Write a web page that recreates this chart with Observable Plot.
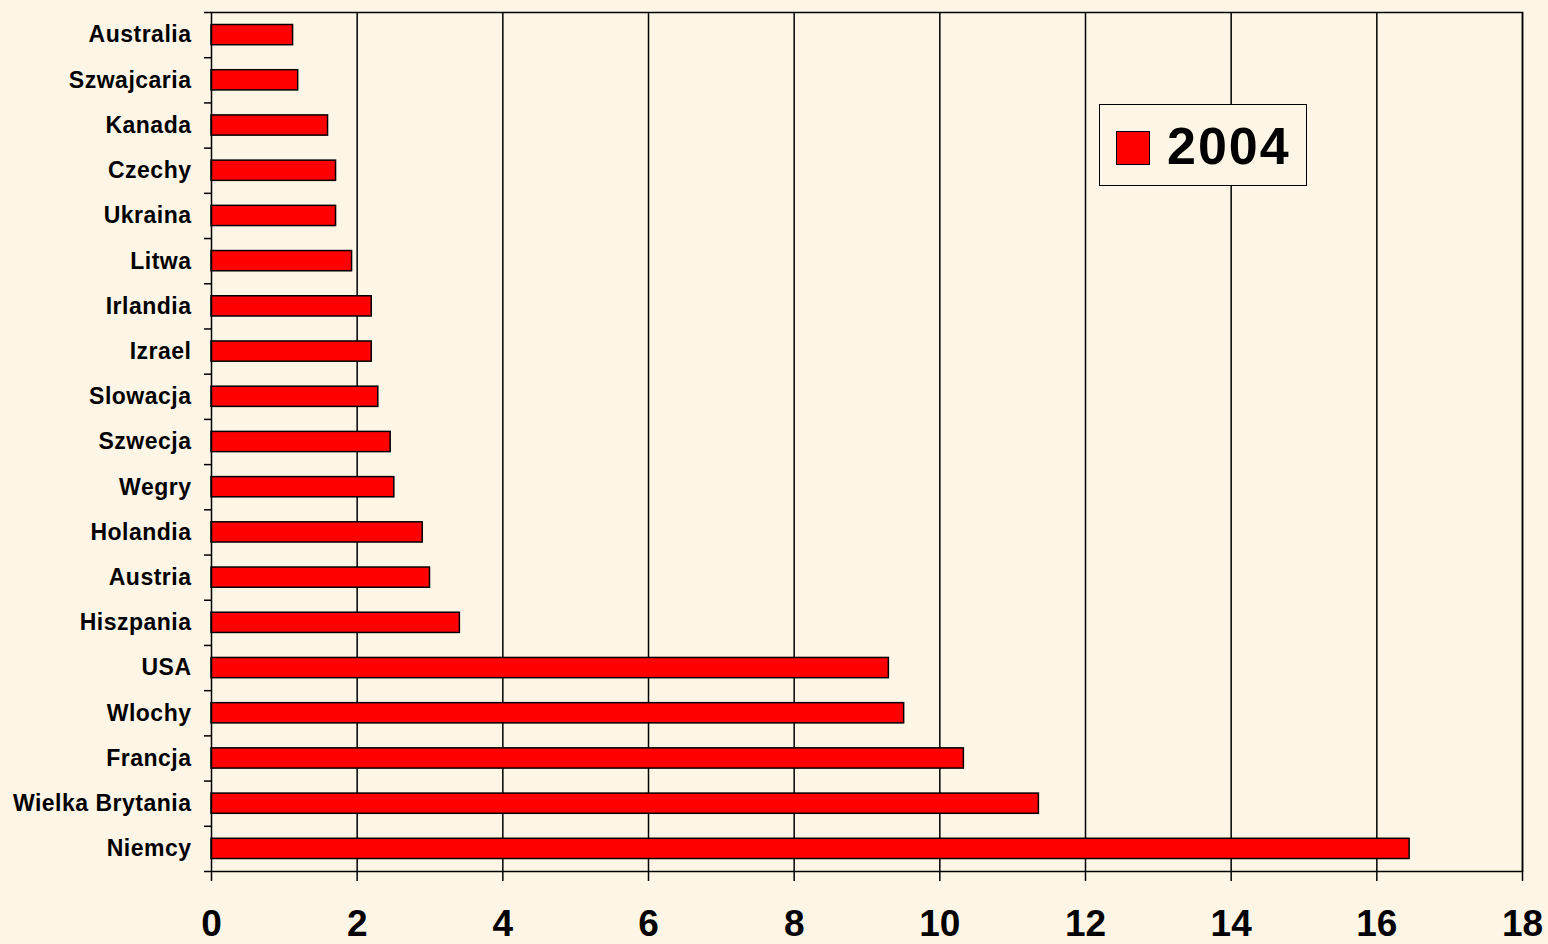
<!DOCTYPE html>
<html><head><meta charset="utf-8">
<script src="https://cdn.jsdelivr.net/npm/d3@7"></script>
<script src="https://cdn.jsdelivr.net/npm/@observablehq/plot@0.6"></script>
<style>
html,body{margin:0;padding:0;background:#fdf5e6;}
#wrap{position:relative;width:1548px;height:944px;font-family:"Liberation Sans",Arial,sans-serif;}
#legend{position:absolute;left:1099px;top:104px;width:206px;height:80px;border:1.5px solid #000;background:#fdf5e6;box-sizing:content-box;}
#legend .sw{position:absolute;left:16px;top:26px;width:32px;height:32px;background:#ff0000;border:1.5px solid #000;}
#legend .lb{position:absolute;left:67px;top:12px;font-size:52px;font-weight:bold;line-height:58px;color:#000;letter-spacing:2px;}
g[aria-label="y-axis tick label"] text{letter-spacing:0.5px;}
</style></head>
<body><div id="wrap"></div>
<script>
const countries = ["Australia","Szwajcaria","Kanada","Czechy","Ukraina","Litwa","Irlandia","Izrael","Slowacja","Szwecja","Wegry","Holandia","Austria","Hiszpania","USA","Wlochy","Francja","Wielka Brytania","Niemcy"];
const values = [1.12,1.19,1.6,1.71,1.71,1.93,2.2,2.2,2.29,2.46,2.51,2.9,3.0,3.41,9.3,9.51,10.33,11.36,16.45];
const xTicks = [0,2,4,6,8,10,12,14,16,18];
const seriesLabel = "2004";

const data = countries.map((c,i)=>({country:c, value:values[i]}));
const W=1548,H=944,mL=211,mR=26,mT=12,mB=73;
const step=(H-mT-mB)/countries.length;
const ppu=(W-mL-mR)/18;
const font='"Liberation Sans",Arial,sans-serif';

const chart = Plot.plot({
  width:W,height:H,marginLeft:mL,marginRight:mR,marginTop:mT,marginBottom:mB,
  style:{background:"#fdf5e6",fontFamily:font,color:"#000",overflow:"visible"},
  x:{domain:[0,18]},
  y:{domain:countries,padding:0,round:false},
  marks:[
    Plot.ruleX(xTicks.filter(d=>d>0),{stroke:"#000",strokeWidth:1.5}),
    Plot.barX(data,{x:"value",y:"country",fill:"#ff0000",stroke:"#000",strokeWidth:1.5,insetTop:12.5,insetBottom:12.5}),
    Plot.ruleY(countries,{y:d=>d,x1:-7/ppu,x2:0,dy:-step/2,stroke:"#000",strokeWidth:1.5}),
    Plot.ruleY([countries[countries.length-1]],{y:d=>d,x1:-7/ppu,x2:0,dy:step/2,stroke:"#000",strokeWidth:1.5}),
    Plot.frame({stroke:"#000",strokeWidth:1.5}),
    Plot.axisY({tickSize:0,tickPadding:20,fontSize:23,fontWeight:"bold",label:null}),
    Plot.axisX({ticks:xTicks,tickSize:10,tickPadding:28.5,fontSize:37,fontWeight:"bold",strokeWidth:1.5,label:null,tickFormat:d=>String(d)})
  ]
});
document.getElementById("wrap").appendChild(chart);
const lg=document.createElement("div");
lg.id="legend";
lg.innerHTML='<div class="sw"></div><div class="lb">'+seriesLabel+'</div>';
document.getElementById("wrap").appendChild(lg);
</script>
</body></html>
